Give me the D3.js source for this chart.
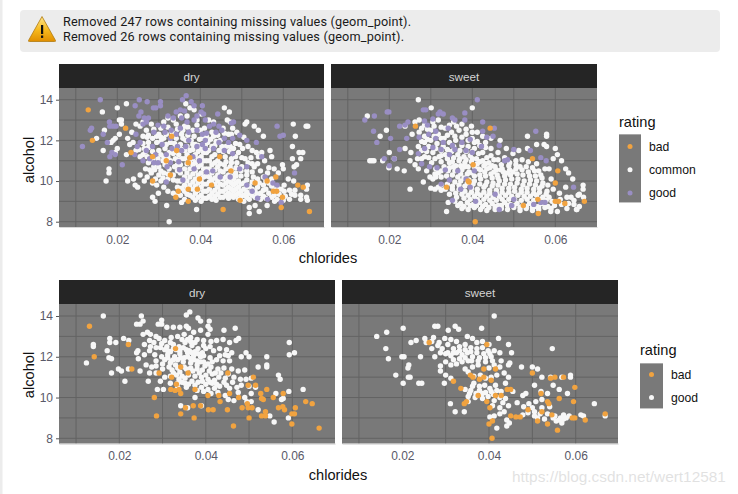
<!DOCTYPE html>
<html><head><meta charset="utf-8">
<script src="https://cdn.jsdelivr.net/npm/d3@7"></script>
<style>html,body{margin:0;background:#fff}svg{display:block}</style></head><body><svg id="c" width="738" height="494"></svg>
<script>
const facets=["dry","sweet"];
const tickX=[0.02,0.04,0.06], minorX=[0.01,0.03,0.05], tickY=[8,10,12,14], minorY=[9,11,13];
const messages=["Removed 247 rows containing missing values (geom_point).","Removed 26 rows containing missing values (geom_point)."];
const ratingsTop=["bad","common","good"], ratingsBottom=["bad","good"];
const colorsTop={bad:"#f1a340",common:"#f7f7f7",good:"#998ec3"};
const colorsBottom={bad:"#f1a340",good:"#f7f7f7"};

const topDryCommon=[[.0164,13.4],[.02,13.6],[.0222,13.8],[.015,12.1],[.0169,12.5],[.0166,11.5],[.018,10.6],[.018,10.4],[.0173,10],[.0225,10],[.0239,10.1],[.0243,9.8],[.0249,9.7],[.0325,8],[.0319,8.8],[.0291,9],[.0285,9.2],[.0299,9.4],[.0391,8.6],[.0458,13.6],[.047,13.4],[.0508,12.8],[.0512,12.9],[.053,12.7],[.0552,12.2],[.054,12.5],[.0624,12.8],[.0629,12.2],[.0622,11.7],[.0659,12.7],[.0655,12.7],[.0638,11.4],[.0647,11.4],[.0622,11.1],[.0642,11.1],[.0632,10.8],[.0626,10.7],[.0572,11.2],[.0568,11.5],[.0518,8.7],[.0518,8.4],[.0542,8.5],[.0532,8.8],[.0561,8.8],[.0579,9],[.0658,9.8],[.0656,9.6],[.0656,9.2],[.0658,9.05],
[.0205,13],[.021,12.8],[.021,13],[.0205,12.3],[.0195,12.1],[.019,12],[.0185,11.9],[.02,11.6],[.0195,11.4],[.0222,11.3],[.023,11.8],[.0225,12.1],[.0235,12.4],[.0245,12.8],[.0255,12.7],[.0262,12.9],[.0238,11.9],[.0245,11.5],[.0255,11.2],[.0262,12.2],[.027,12.5],[.0275,11.9],[.0282,12.8],[.0265,11.6],[.0262,11.3],[.0275,10.9],[.0272,11.2],[.0288,10.7],[.0282,10.4],[.0268,10.6],[.0255,10.3],[.0265,10],[.0272,10.2],[.0285,9.9],[.0295,9.8],[.0305,10],[.0312,9.7],[.0322,9.5],[.0335,9.4],[.0345,9.7],[.0352,9.3],[.0362,9.1],[.0355,8.95],
[.03,10.3],[.03,10.7],[.0298,11.1],[.03,11.5],[.0295,11.9],[.03,12.3],[.0305,12.6],[.0312,12.9],[.0322,13.1],[.0335,13],[.0312,12.1],[.0315,11.6],[.0312,11.2],[.0315,10.8],[.0312,10.4],[.0322,10.1],[.0325,10.6],[.0328,11],[.0325,11.4],[.0328,11.9],[.0332,12.4],[.0342,12.8],[.0352,13.2],[.0342,12.1],[.0338,11.6],[.034,11.1],[.0338,10.7],[.0335,10.3],[.0345,10],[.0352,10.4],[.0352,10.8],[.0348,11.3],[.0352,11.8],[.0355,12.3],[.0362,12.7],[.0368,13.2],[.0375,13.6],[.0365,13.8],[.0385,13.5],[.0365,12],[.0362,11.5],[.0362,11.1],[.0362,10.6],[.0362,10.2],[.0362,9.8],[.0362,9.5],[.0375,9.3],[.0375,9.8],[.0375,10.2],[.0375,10.6],[.0375,11],[.0375,11.5],[.0378,12],[.0382,12.5],[.0392,13],[.0402,13.3],[.0388,11.8],[.0388,11.3],[.0388,10.9],[.0388,10.5],[.0388,10.1],[.0388,9.75],[.0388,9.4],[.0388,9.05],[.0402,9],[.0402,9.3],[.0402,9.7],[.0402,10],[.0402,10.4],[.0402,10.8],[.0402,11.2],[.0402,11.6],[.0405,12.1],[.041,12.6],[.042,13],[.0415,9.15],[.0415,9.5],[.0415,9.85],[.0415,10.25],[.0415,10.6],[.0415,11],[.0415,11.4],[.0418,11.9],[.0428,12.4],[.0432,12.9],[.0428,9.1],[.0428,9.4],[.0428,10.05],[.0428,10.4],[.0428,10.8],[.0428,11.2],[.0428,11.7],[.0438,9.05],[.0442,9.35],[.0442,9.7],[.0442,10],[.0442,10.3],[.0442,10.7],[.0442,11],[.0445,11.5],[.0448,12],[.0455,12.6],[.0465,13],[.0472,12.9],[.0455,9.2],[.0455,9.5],[.0455,9.8],[.0455,10.1],[.0455,10.45],[.0458,10.8],[.046,11.2],[.0462,11.7],[.0468,12.3],[.0478,12.6],[.0468,9.15],[.0468,9.4],[.0468,9.7],[.0468,10],[.0468,10.3],[.0472,10.7],[.0475,11.1],[.048,11.6],[.048,9.2],[.048,9.5],[.048,9.8],[.048,10.1],[.0485,10.4],[.0488,10.9],[.0492,11.4],[.0495,11.8],[.0492,9.1],[.0492,9.4],[.0492,9.7],[.0492,10],[.0498,10.25],[.05,10.7],[.0508,11.1],[.0515,11.7],[.0505,9],[.0505,9.3],[.0505,9.6],[.0505,9.9],[.0512,10.3],[.0515,10.9],[.0525,11.5],[.0535,11.4],[.0518,9.1],[.0518,9.4],[.0518,9.75],[.0528,10.2],[.053,10.7],[.054,11.2],[.0548,11.4],[.0532,9.2],[.0532,9.5],[.0542,9.9],[.0545,10.5],[.0555,11],[.0545,9.1],[.0545,9.4],[.0558,9.6],[.0558,10],[.0562,10.4],[.0558,9.15],[.0572,9.2],[.0572,9.75],[.0572,10.1],[.0578,10.6],[.0588,10.4],[.0585,9.7],[.0585,9.1],[.06,9.05],[.0602,9.5],[.0602,9.8],[.0598,10.8],[.06,10.6],[.0612,10.1],[.0615,9.55],[.0615,9.1],[.0628,9.3],[.0628,9.55],[.0625,10],[.0642,9.3],[.0642,9.1]];
const topDryCommonDense=[[.0368,9.35],[.0368,9.65],[.0368,10],[.0368,10.4],[.0368,10.85],[.0368,11.3],[.0382,9.2],[.0382,9.6],[.0382,9.95],[.0382,10.35],[.0382,10.8],[.0382,11.1],[.0395,9.2],[.0395,9.55],[.0395,9.9],[.0395,10.3],[.0395,10.7],[.0395,11.1],[.0395,11.45],[.0408,9.15],[.0408,9.5],[.0408,9.85],[.0408,10.2],[.0408,10.6],[.0408,11],[.0408,11.4],[.0422,9.25],[.0422,9.6],[.0422,9.95],[.0422,10.2],[.0422,10.6],[.0422,11],[.0435,9.25],[.0435,9.55],[.0435,9.85],[.0435,10.15],[.0435,10.55],[.0435,10.9],[.0435,11.3],[.0448,9.2],[.0448,9.5],[.0448,9.85],[.0448,10.15],[.0448,10.5],[.0448,10.85],[.0462,9.3],[.0462,9.6],[.0462,9.9],[.0462,10.2],[.0462,10.6],[.0462,10.95],[.0475,9.3],[.0475,9.6],[.0475,9.9],[.0475,10.25],[.0475,10.55],[.0475,10.9],[.0486,9.3],[.0486,9.6],[.0486,9.9],[.0486,10.25],[.0486,10.65],[.0498,9.25],[.0498,9.5],[.0498,9.85],[.0498,10.5],[.0498,9.05],[.0512,9.2],[.0512,9.45],[.0512,9.7],[.0512,10.05],[.0512,10.5],[.0525,9.3],[.0525,9.6],[.0525,9.95],[.0525,10.45],[.0538,9.35],[.0538,9.7],[.0538,10.1],[.0538,10.85],[.0552,9.25],[.0552,9.55],[.0552,9.8],[.0552,10.2],[.0565,9.4],[.0565,9.9],[.0565,10.65],[.0578,9.3],[.0578,9.55],[.059,9.35],[.0595,9.6],[.0605,9.25],[.062,9.35],[.0322,10.35],[.0335,10.05],[.0345,10.5],[.0345,10.8],[.0348,9.55],[.0352,10],[.032,10.9],[.0322,11.2],[.0335,11.35],[.0345,11.05],[.0355,11.1],[.0355,11.55],[.0305,10.5],[.031,11],[.0305,11.3],[.0285,11.05],[.0285,11.45],[.0285,12.1],[.0272,12.15],[.0262,11.85],[.0368,11.7],[.0382,11.55],[.0395,11.75],[.042,11.5],[.0435,11.75],[.0455,11.45],[.047,11.45],[.0485,11.2],[.05,11.15],[.0522,11.15],[.0525,10.85],
[.0275,12.25],[.0288,12.55],[.0295,12.2],[.0305,11.95],[.0318,11.8],[.0318,12.3],[.0322,12.65],[.0338,11.85],[.0338,12.25],[.0345,12.55],[.0358,12.1],[.0358,12.5],[.037,12.25],[.037,12.65],[.0382,11.8],[.0385,12.2],[.0392,12.75],[.0398,12.05],[.04,12.5],[.0412,11.75],[.0415,12.2],[.0425,12.05],[.0432,12.2],[.0438,11.95],[.0442,12.25],[.0452,11.7],[.0458,12.35],[.0472,11.7],[.0475,12.3],[.0485,11.85],[.0488,12.4],[.0502,11.6],[.0505,12.15],[.0275,11.65],[.0268,11.45],[.0252,11.55],[.029,10.55],[.0292,10.1],[.0278,10.55],[.031,10.15],[.0305,12.15],[.0355,9.65],[.0345,9.35]];
const topDryGood=[[.0159,14],[.0116,11.7],[.0138,12.6],[.0135,12.5],[.0166,12.3],[.0176,11.9],[.0181,12.9],[.0182,12.7],[.019,12.7],[.0197,12.7],[.0182,11.2],[.0187,11.4],[.0195,11.3],[.0212,10.8],[.0253,14],[.0272,13.9],[.0243,13.7],[.0304,13.9],[.0304,13.7],[.0287,13.6],[.0293,13.6],[.0257,13.4],[.0252,13.2],[.0265,13.1],[.0275,13.1],[.027,12.9],[.0262,12.8],[.0366,14.2],[.0357,14],[.0378,13.9],[.0385,13.7],[.0405,13.7],[.0402,13.4],[.0408,13.3],[.0442,13.3],[.048,12.9],[.0475,12.85],[.0585,12.7],[.0592,12.2],[.06,12.25],[.0627,10.4],[.0556,10.2],[.0562,9.1],[.0575,9.9],[.0585,9.8],[.0595,8.95],[.0548,11.2],
[.0322,13.2],[.0342,13.4],[.0352,13.5],[.0362,13.45],[.0335,13.1],[.0355,13.1],[.0368,12.9],[.0385,13],[.0392,13.2],[.0412,13],[.0432,12.8],[.0445,12.7],[.0452,12.5],[.0312,12.7],[.0298,12.75],[.0288,12.4],[.0245,12.3],[.0255,11.9],[.0248,11.7],[.0242,11.3],[.027,11.5],[.0278,11.1],[.0262,11],[.0285,11.7],[.0292,11.3],[.0315,12.4],[.033,12.5],[.0342,12.3],[.0352,12.6],[.0372,12.4],[.0392,12.5],[.0405,12.3],[.0415,12.35],[.0422,12.7],[.0438,12.4],[.0458,12.1],[.0468,11.9],[.0478,12.1],[.0495,12.25],[.0512,12],[.0535,11.9],[.0328,12.1],[.0345,11.7],[.0355,11.5],[.0365,11.7],[.0372,12],[.0382,11.2],[.0392,11.7],[.0405,11.8],[.0412,11.6],[.0412,12],[.0432,11.6],[.0445,11.9],[.0458,11.5],[.0478,11.35],[.0308,11.8],[.0318,11.3],[.0288,10.9],[.0298,10.9],[.032,10.7],[.0328,10.9],[.0348,10.95],[.035,10.55],[.0385,10.6],[.0398,11],[.0415,10.45],[.043,10.5],[.0448,10.2],[.0472,10.2],[.0495,10.6],[.0512,10.7],[.0512,9.8],[.0525,9.5],[.0538,9.15],[.0318,9.95],[.0358,10.05],[.0332,11.6]];
const topDryBad=[[.013,13.5],[.014,12],[.022,12.6],[.0285,11.2],[.0285,10],[.0371,10.9],[.0447,11.2],[.0474,10.5],[.0398,10.1],[.0427,9.8],[.0347,9.5],[.0341,9.2],[.0371,9.6],[.0393,9.6],[.0371,9],[.0455,8.6],[.0561,10],[.0582,10.2],[.0635,9.8],[.0648,9.7],[.0663,8.5],[.0576,9.5],[.0584,9.5],[.0598,9.2],[.0595,8.7],[.0496,9.05],[.0331,12.2],[.0343,11.5],[.0233,11.4],[.0328,10.3],[.0532,9.9],[.0318,11],[.0375,11.15]];

const topSweetCommon=[[.027,14],[.0301,13.6],[.04,13.6],[.0147,13.2],[.0193,12.5],[.0178,12.2],[.02,11.4],[.0153,11],[.0158,11],[.0163,11],[.0184,11],[.0212,11.1],[.0219,10.6],[.0236,10.5],[.0199,10.65],[.025,9.6],[.027,10.6],[.0338,8.5],[.0282,9.95],[.0467,12],[.0533,12.2],[.0579,12.3],[.0579,12.2],[.0555,11.8],[.0573,11.8],[.0579,11.7],[.0533,11.6],[.0512,11.5],[.0498,11.35],[.0482,11.6],[.06,11.6],[.0615,11],[.0595,11.1],[.0605,11.3],[.0585,10.6],[.0625,10.6],[.0632,10.4],[.0642,10.1],[.0667,9.8],[.0667,9.6],[.0655,9.3],[.0651,8.6],[.0605,8.5],[.0589,8.5],[.0628,8.65],
[.0238,12.7],[.0262,12.9],[.0272,13],[.0285,12.75],[.0305,12.9],[.0318,13],[.0335,12.6],[.0355,12.9],[.0375,12.8],[.0398,12.7],[.0412,12.4],[.0425,12.2],[.0445,12.1],[.0255,12.3],[.0272,12.4],[.0285,12.2],[.03,12.5],[.0318,12.3],[.0332,12.1],[.035,12.4],[.0368,12.5],[.0385,12.3],[.04,12.1],[.0412,11.95],[.0432,11.9],[.0445,11.6],[.0462,11.4],[.0238,11.6],[.0252,11.4],[.027,11.7],[.0285,11.9],[.03,12],[.0315,11.85],[.033,11.7],[.0345,11.9],[.036,12],[.0375,11.75],[.039,11.7],[.0405,11.6],[.0425,11.4],[.0445,11.25],[.0462,11.05],[.0478,11.15],[.025,11],[.0262,10.8],[.0278,11.1],[.029,11.45],[.0305,11.4],[.032,11.2],[.0335,11.3],[.035,11.45],[.0365,11.3],[.038,11.2],[.0395,11.25],[.041,11.1],[.0425,11],[.044,10.9],[.0455,10.7],[.047,10.8],[.049,10.9],[.0505,11],[.052,11.05],[.0535,10.95],[.0555,10.85],[.0575,10.6],[.029,10.5],[.0302,10.9],[.0312,10.6],[.0325,10.2],[.0332,10.7],[.0345,10.9],[.036,10.75],[.0375,10.55],[.039,10.7],[.04,10.4],[.0415,10.6],[.043,10.45],[.0445,10.35],[.046,10.3],[.0475,10.45],[.049,10.55],[.0505,10.6],[.052,10.55],[.0535,10.45],[.055,10.5],[.0565,10.3],[.0305,10.1],[.0318,9.7],[.0338,10.25],[.0352,10.3],[.0365,10.2],[.038,10.15],[.0392,10.05],[.0405,10],[.042,10.1],[.0435,9.95],[.045,9.9],[.0465,10],[.048,10.05],[.0495,10.1],[.051,10.1],[.0525,10],[.054,10.05],[.0555,10],[.057,9.9],[.059,10.1],[.03,9.65],[.031,9.6],[.0325,9.55],[.034,9.85],[.0352,9.75],[.0368,9.8],[.0382,9.75],[.0398,9.65],[.0412,9.6],[.0428,9.7],[.0442,9.55],[.0458,9.55],[.0472,9.65],[.0488,9.65],[.0502,9.7],[.0518,9.6],[.0532,9.65],[.0548,9.6],[.0562,9.65],[.058,9.5],[.0595,9.6],[.061,9.4],[.0625,9.7],[.0638,9.2],[.0345,9.35],[.036,9.4],[.0375,9.35],[.039,9.3],[.0405,9.25],[.042,9.3],[.0435,9.25],[.045,9.2],[.0465,9.25],[.048,9.3],[.0495,9.25],[.051,9.3],[.0525,9.25],[.054,9.25],[.0555,9.3],[.057,9.2],[.0585,9.2],[.0612,9.1],[.0628,9.2],[.0645,9.05],[.0658,9.35],[.0668,9.2],[.0342,8.95],[.0358,9],[.0372,8.9],[.0388,8.95],[.0402,8.85],[.0418,8.95],[.0432,8.85],[.0448,8.9],[.0462,8.8],[.0478,8.95],[.0492,8.85],[.0508,8.9],[.0522,8.8],[.0538,8.9],[.0552,8.75],[.0568,8.9],[.0582,8.75],[.0598,8.8],[.0615,8.85],[.0632,8.9],[.0645,8.85],[.0658,8.75],[.0652,8.6],[.0375,8.65],[.039,8.6],[.0405,8.7],[.042,8.6],[.0435,8.55],[.0455,8.6],[.047,8.65],[.0485,8.6],[.05,8.7],[.0515,8.55],[.053,8.65],[.0545,8.55],[.056,8.6]];
const topSweetCommonDense=[[.0362,9.2],[.038,9.15],[.0395,9.1],[.0412,9.1],[.0428,9.1],[.0442,9.05],[.0458,9.05],[.0472,9.1],[.0488,9.1],[.0502,9.1],[.0518,9.05],[.0532,9.1],[.0548,9.05],[.0562,9.1],[.0578,9.05],[.0592,9],[.0365,8.8],[.038,8.75],[.0395,8.8],[.041,8.8],[.0425,8.75],[.044,8.7],[.0455,8.75],[.047,8.8],[.0485,8.8],[.05,8.8],[.0515,8.7],[.053,8.75],[.0545,8.7],[.056,8.75],[.0575,8.7],[.059,8.65],[.0352,9.6],[.0368,9.6],[.0382,9.5],[.0398,9.45],[.0412,9.4],[.0428,9.45],[.0442,9.4],[.0458,9.4],[.0472,9.45],[.0488,9.45],[.0502,9.5],[.0518,9.45],[.0532,9.45],[.0548,9.4],[.0562,9.45],[.0578,9.35],[.0358,9.95],[.0372,10],[.0388,9.9],[.0402,9.85],[.0418,9.85],[.0432,9.8],[.0448,9.75],[.0462,9.8],[.0478,9.85],[.0492,9.85],[.0508,9.9],[.0522,9.8],[.0538,9.85],[.0552,9.8],[.0568,9.75],[.0582,9.8],[.0342,10.5],[.0358,10.5],[.0372,10.35],[.0388,10.35],[.0405,10.25],[.0418,10.3],[.0432,10.25],[.0448,10.15],[.0462,10.15],[.0478,10.25],[.0492,10.3],[.0508,10.35],[.0522,10.3],[.0538,10.25],[.0552,10.25],[.0568,10.15],[.0352,10.95],[.0368,11],[.0382,10.9],[.0398,10.95],[.0412,10.85],[.0428,10.75],[.0442,10.65],[.0458,10.55],[.0472,10.6],[.0488,10.75],[.0505,10.8],[.0372,10.75],[.0325,10.95],[.0318,10.4],[.0312,10.2],[.0298,10.2],[.0335,9.6],[.0325,9.8],
[.0278,12.6],[.0292,12.55],[.0308,12.7],[.0325,12.65],[.0345,12.75],[.0362,12.7],[.0385,12.55],[.04,12.4],[.0278,11.95],[.0292,12.05],[.0308,12.2],[.0325,12.1],[.034,12.25],[.0358,12.2],[.0375,12.15],[.039,12],[.0405,11.9],[.0418,11.75],[.0432,11.65],[.0278,11.5],[.0295,11.7],[.0312,11.6],[.0325,11.5],[.034,11.55],[.0355,11.7],[.037,11.5],[.0385,11.45],[.04,11.45],[.0415,11.35],[.0435,11.15],[.0452,11.05],[.0268,11.1],[.0285,11.2],[.0295,11.15],[.031,11.1],[.0325,11.25],[.034,11.1],[.0355,11.15],[.037,11.1],[.0385,11.05],[.04,11.1],[.0418,10.95],[.0432,10.85],[.0448,10.75],[.031,10.35],[.0325,10.5],[.0345,10.65],[.0355,10.7],[.0382,10.7],[.0392,10.45],[.0405,10.7],[.042,10.55],[.0435,10.6],[.0452,10.45],[.0468,10.55],[.0485,10.4],[.0498,10.45],[.0515,10.7],[.053,10.7],[.0545,10.65],[.056,10.5]];
const topSweetGood=[[.0412,14],[.0141,13],[.0164,13.2],[.0199,13.4],[.0195,13.4],[.0282,13.5],[.0288,13.5],[.0322,13.4],[.033,13.3],[.0318,13.3],[.0382,13.35],[.0352,13.1],[.0382,13],[.0425,12.9],[.0162,12.45],[.017,11.9],[.0203,12.1],[.0225,12.7],[.0245,12.9],[.0238,12.75],[.0242,12.1],[.0285,12.95],[.0292,12.75],[.0305,13.05],[.0358,13],[.0312,12.45],[.0342,12.6],[.0453,12.6],[.0553,12.45],[.0225,11.55],[.0212,11.1],[.0188,11.1],[.02,10.75],[.0297,10.7],[.0278,10.85],[.0644,9.7],[.0565,8.95],[.0575,8.95],[.0548,8.85],[.0495,8.8],[.05,11.55],[.0465,11.75],[.054,11.5],[.0485,11.05],[.0478,11],[.0565,11.15],[.0578,11],[.045,12.2],[.0425,12.45],[.0395,12.05],[.0375,11.9],[.0352,11.75],[.033,11.9],[.0312,12.1],[.0295,12.3],[.0272,12.15],[.027,11.35],[.0285,11.6],[.0305,11.65],[.0325,11.55],[.0345,11.3],[.0358,11.55],[.0385,11.5],[.04,11.4],[.0422,11.7],[.0435,12.15],[.0315,10.65],[.0335,10.55],[.0365,10.5],[.0385,10.1],[.0405,10.5],[.0325,9.85],[.0345,10.05],[.0372,9.6],[.0395,9.7],[.0455,9.35],[.05,9.1],[.0465,8.6],[.0408,9],[.0352,9.05]];
const topSweetBad=[[.0263,12.7],[.0443,12.6],[.0407,8],[.0559,8.4],[.0523,8.8],[.067,9],[.06,9],[.0608,9],[.06,9.9],[.0606,10.5],[.0545,11.1],[.0338,9.7],[.039,10],[.0402,10.8],[.0623,8.9],[.0392,9.95],[.0558,9.1]];

const botDryGood=[[.0163,14],[.0251,14],[.0124,11.7],[.014,12.6],[.014,12.5],[.0172,12.3],[.0178,12.9],[.0178,12.7],[.0182,11.9],[.0176,11.95],[.0182,11.2],[.0198,11.4],[.0205,11.3],[.0213,10.8],[.0192,12.7],[.021,12.9],[.0222,12.8],[.024,13.6],[.0248,13.6],[.0255,13.75],[.0243,12.3],[.0244,11.9],[.024,12.2],[.0221,11.4],[.0267,10.8],[.0288,10.4],[.0302,10.4],[.0342,9.6],[.0358,9.5],[.039,9.6],[.0375,10],[.0593,12.7],[.0605,12.2],[.0593,12.1],[.0625,10.4],[.0592,10.3],[.0579,9.95],[.0575,9.9],[.0541,12],[.0541,11.5],[.0541,11.6],[.0521,11.5],[.0493,12.2],[.05,12],[.0482,12],[.047,12.8],[.0476,12.9],[.0468,13.4],[.0442,13.3],[.0568,11.1],[.0572,10.9],[.0493,10.9],[.0562,10.2],[.0521,9.4],[.0548,9.1],[.0558,8.8],[.0591,9],[.0363,14.2],[.0355,14.05],[.0382,13.9],[.0388,13.75],[.0408,13.75],[.0405,13.5],[.041,13.35],[.0405,13.1],
[.0255,13.1],[.0265,13.2],[.0272,13.1],[.0285,13],[.029,13.6],[.0298,13.8],[.0298,13.6],[.031,13.45],[.0325,13.45],[.034,13.45],[.0355,13.5],[.036,13.4],[.0372,13.2],[.0388,13.3],[.0258,12.6],[.027,12.8],[.028,12.7],[.0292,12.9],[.0305,12.8],[.032,12.95],[.0335,13],[.035,13.1],[.0365,12.95],[.038,12.85],[.0395,12.8],[.0412,12.75],[.0425,12.8],[.044,12.85],[.0455,12.7],[.0258,12.1],[.027,12.3],[.0282,12.1],[.0295,12.45],[.031,12.5],[.0325,12.6],[.0338,12.5],[.0352,12.7],[.0368,12.55],[.0382,12.4],[.04,12.4],[.0418,12.3],[.0432,12.4],[.0448,12.35],[.046,12.2],[.0248,11.3],[.0262,11.6],[.0275,11.5],[.0285,11.8],[.0298,12],[.0312,12.1],[.0328,12],[.034,12.15],[.0358,12.2],[.0372,12.05],[.0388,12],[.041,11.95],[.0425,11.85],[.044,11.8],[.0455,11.8],[.027,11.2],[.0285,11.2],[.03,11.4],[.0315,11.5],[.033,11.6],[.0348,11.75],[.0365,11.7],[.038,11.6],[.0398,11.55],[.0412,11.5],[.0428,11.4],[.0442,11.45],[.046,11.4],[.0475,11.3],[.049,11.35],[.0295,10.8],[.0305,11],[.0325,11.2],[.034,11.25],[.0355,11.4],[.037,11.3],[.0385,11.2],[.04,11.1],[.0415,11.15],[.043,11],[.0445,10.95],[.0465,11],[.048,10.9],[.0505,10.95],[.0318,10.7],[.0338,10.9],[.0352,10.95],[.0368,10.8],[.0382,10.75],[.04,10.65],[.0415,10.7],[.0432,10.55],[.0448,10.6],[.0462,10.75],[.0482,10.6],[.05,10.55],[.0515,10.5],[.0335,10.5],[.0355,10.5],[.038,10.35],[.0395,10.3],[.0412,10.2],[.0428,10.25],[.0445,10.1],[.0475,10.25],[.049,10],[.0505,10.2],[.0452,9.9],[.0465,9.85],[.0495,9.8],[.0505,9.8],
[.0305,12.35],[.0318,12.25],[.0332,12.35],[.0348,12.45],[.0362,12.3],[.0375,12.25],[.0392,12.2],[.0305,11.85],[.032,11.8],[.0335,11.85],[.035,11.95],[.0365,11.9],[.038,11.8],[.0395,11.75],[.0415,11.75],[.0318,11.05],[.0332,11.1],[.0345,11.05],[.036,11.1],[.0375,11.05],[.039,11],[.0405,10.9],[.042,10.85],[.0345,10.75],[.036,10.65],[.0375,10.6],[.039,10.5],[.0405,10.4],[.042,10.45],[.0285,12.45],[.0298,12.65],[.0318,12.7],[.0345,12.85],[.0358,12.85],[.0375,12.7],[.0285,11.55],[.03,11.65],[.0318,11.7],
[.0312,12.3],[.0325,12.4],[.034,12.3],[.0355,12.35],[.0368,12.2],[.0382,12.15],[.0395,12.05],[.0312,11.95],[.0325,11.85],[.0342,11.95],[.0358,12],[.0372,11.85],[.0388,11.75],[.0405,11.65],[.0322,11.35],[.0335,11.45],[.035,11.5],[.0365,11.45],[.038,11.4],[.0392,11.35],[.0408,11.3],[.0422,11.2],[.0435,11.2],[.0452,11.15],[.0335,10.7],[.0352,10.7],[.0392,10.8],[.041,10.75],[.0425,10.65],[.0442,10.75],[.0455,10.45],[.0472,10.5],[.0365,12.75],[.0395,12.55],[.041,12.5],[.0272,12.5],[.0452,12.05],[.0432,12.05],[.0445,12.1]];
const botDryBad=[[.0131,13.5],[.0142,12],[.0221,12.6],[.0229,11.4],[.0281,10],[.0286,9.1],[.0292,11.2],[.0321,11],[.033,12.4],[.0319,10.4],[.0332,10.65],[.0338,10.4],[.0342,10.2],[.0342,9.2],[.0353,9.5],[.0371,9.6],[.0373,9],[.0388,9.6],[.0406,9.4],[.0417,9.4],[.045,9.4],[.0433,9.8],[.0464,8.6],[.0484,9.5],[.0496,9.7],[.0498,9.5],[.0507,9.5],[.05,9],[.0527,10.2],[.0529,9.95],[.0533,9.9],[.0529,9.1],[.0538,9.1],[.0538,9.3],[.0541,10.4],[.0556,10],[.0568,9.5],[.0578,9.55],[.0582,9.4],[.0579,10.2],[.0599,8.7],[.0599,9.2],[.0605,9.2],[.0607,9.5],[.0631,9.8],[.0646,9.7],[.0662,8.5],[.051,11],[.0451,11.2],[.0359,11.2],[.0342,11.5],[.0329,10.35],[.0375,10.4],[.0405,10.1],[.043,10.1],[.0455,10.2],[.0476,10],[.0498,10.6],[.0515,10.6]];

const botSweetGood=[[.0412,14],[.0141,13],[.0164,13.2],[.0202,13.4],[.0275,13.5],[.0282,13.5],[.0252,12.9],[.0232,12.8],[.022,12.7],[.0162,12.4],[.0168,11.9],[.0199,12],[.0204,12],[.0242,12],[.0215,11.6],[.0213,11.45],[.0185,11.1],[.0218,11],[.0214,11],[.0202,10.7],[.0238,10.7],[.0245,10.7],[.0297,10.7],[.0322,13.5],[.033,13.35],[.0306,13.3],[.0383,13.4],[.0422,12.9],[.0445,12.6],[.0452,12.2],[.0445,11.6],[.0448,11.7],[.0546,12.4],[.0475,11.5],[.05,11.5],[.0512,11.4],[.0643,9.7],[.0668,9.1],[.0581,10.2],[.0562,10.4],[.0548,10.6],[.0522,11],[.0542,11],[.0568,11],[.0588,11.1],[.0588,11],[.052,10.3],[.0485,10.2],[.0478,10.1],[.0311,9.7],[.0322,9.3],[.0343,9.3],[.0352,9.8],[.0418,8.5],[.0441,8.9],[.0441,8.6],[.0447,8.75],
[.0255,12.7],[.0268,12.75],[.0272,12.95],[.0285,12.7],[.0298,12.9],[.0312,12.85],[.0325,12.75],[.035,13],[.0362,12.9],[.0372,12.7],[.0385,12.75],[.04,12.6],[.0268,12.4],[.0282,12.55],[.0292,12.4],[.0305,12.6],[.0318,12.4],[.0332,12.5],[.0345,12.6],[.0358,12.45],[.0372,12.4],[.0385,12.45],[.0398,12.3],[.0412,12.3],[.0425,12.2],[.0275,12],[.0288,12.2],[.03,12.15],[.0312,12.05],[.0325,12.2],[.0338,12.1],[.035,12.2],[.0362,12],[.0378,11.95],[.0392,11.95],[.0405,12],[.0428,11.8],[.0288,11.55],[.03,11.75],[.0312,11.6],[.0325,11.65],[.0338,11.75],[.0352,11.8],[.0362,11.5],[.0375,11.6],[.04,11.45],[.0412,11.6],[.0425,11.5],[.0288,11.3],[.03,11.1],[.0312,10.95],[.0345,11.4],[.0352,11.25],[.0365,11.05],[.038,11.1],[.0392,10.95],[.0405,11],[.0418,11.1],[.0435,11.2],[.0365,10.7],[.0378,10.55],[.039,10.6],[.0402,10.45],[.0415,10.6],[.0428,10.3],[.0445,11],[.0438,10.7],[.0345,10.4],[.0358,10.35],[.037,10.2],[.0385,10.2],[.0398,10.05],[.041,10.15],[.0425,10],[.0438,9.95],[.0445,9.6],[.0425,9.5],[.0408,9.6],[.0505,10.6],[.0508,9.8],[.0522,9.9],[.0535,10.2],[.05,9.5],[.049,9.25],[.0505,9.1],[.0512,9],[.0528,8.95],[.0522,9.5],[.054,9.55],[.0552,9.1],[.0562,8.9],[.0572,9.15],[.0578,9],[.0568,8.75],[.0548,9],[.0612,9.15],[.0618,9.1],[.0402,9.05],[.0412,9.1],[.0425,9.2],[.0435,9.3],[.0478,9.15],[.048,9.55],[.0492,9.7],[.0465,9.75],[.0455,10.3],
[.0305,12.2],[.0318,12.2],[.0332,12.3],[.0345,12.35],[.0358,12.25],[.0372,12.2],[.0388,12.15],[.0402,12.15],[.0318,11.85],[.0332,11.9],[.0345,11.95],[.036,11.8],[.0375,11.8],[.0392,11.75],[.0408,11.8],[.0355,10.2],[.0378,10.35],[.0392,10.25],[.0405,10.3],[.0418,10.35],[.0362,10.55],[.0352,10.05],[.0368,10],[.0385,9.95],[.0412,9.85],[.0432,9.75],[.0505,9.3],[.0518,9.2],[.0535,9.2],[.0565,9],[.0585,9.1],[.0572,8.95],[.0555,8.85]];
const botSweetBad=[[.0262,12.7],[.0395,12.6],[.0357,11.1],[.0363,11],[.0335,10.45],[.0378,10.9],[.0388,11.4],[.0415,11.4],[.0388,11],[.0405,10.85],[.0442,10.4],[.0318,10.8],[.045,10.4],[.0375,10.1],[.0395,9.8],[.0343,9.7],[.0348,9.8],[.0402,9.5],[.0415,10.1],[.0428,10.1],[.04,8.7],[.0408,8.85],[.0407,8],[.045,9.1],[.0462,9.05],[.0472,9.05],[.049,9.4],[.05,11.2],[.0542,10.95],[.0572,11],[.0598,10.5],[.0595,9.8],[.0562,9.95],[.0535,9.8],[.0538,9.7],[.052,10.2],[.0522,9.3],[.0512,8.85],[.0535,8.7],[.0558,8.4],[.0592,9],[.0598,9],[.0622,8.9],[.0668,9.2],[.0545,9.15],[.0552,11]];

const panelFill="#797979",gridColor="#636363",stripFill="#252525",tickColor="#595968";
const sans="'Liberation Sans',Arial,sans-serif";
const svg=d3.select("#c");

svg.append("rect").attr("x",0).attr("y",0).attr("width",2.5).attr("height",494).attr("fill","#ececec");
svg.append("rect").attr("x",20).attr("y",10).attr("width",700).attr("height",42).attr("rx",4).attr("fill","#ececec");
const grad=svg.append("defs").append("linearGradient").attr("id","warn").attr("x1",0).attr("y1",0).attr("x2",0).attr("y2",1);
grad.append("stop").attr("offset",0).attr("stop-color","#fde58a");
grad.append("stop").attr("offset",.55).attr("stop-color","#f6b81c");
grad.append("stop").attr("offset",1).attr("stop-color","#e08e00");
svg.append("path").attr("d","M42 16.5 L55.5 40.5 Q56 41.5 54.5 41.5 L29.5 41.5 Q28 41.5 28.5 40.5 Z").attr("fill","url(#warn)").attr("stroke","#b07a10").attr("stroke-width",.8);
svg.append("rect").attr("x",41).attr("y",25).attr("width",2.2).attr("height",9).attr("fill","#111");
svg.append("rect").attr("x",41).attr("y",35.5).attr("width",2.2).attr("height",2.4).attr("fill","#111");
svg.selectAll("text.msg").data(messages).enter().append("text").attr("class","msg")
  .attr("x",63).attr("y",(d,i)=>26+i*15).attr("font-family","Roboto,sans-serif").attr("font-size",12.7).attr("fill","#1a1a1a")
  .attr("textLength",(d,i)=>i==0?348:341).attr("lengthAdjust","spacing").text(d=>d);

function facetRow(g){
  const colorByRating=g.colors;
  g.panels.forEach((p,i)=>{
    const x=d3.scaleLinear().domain(g.xDomainFrom(p)).range([p.left,p.right]);
    const y=d3.scaleLinear().domain([g.y8,g.y14]).range([g.py8,g.py14]);
    svg.append("rect").attr("x",p.left).attr("y",g.stripTop).attr("width",p.right-p.left).attr("height",g.panelTop-g.stripTop).attr("fill",stripFill);
    svg.append("rect").attr("x",p.left).attr("y",g.panelTop).attr("width",p.right-p.left).attr("height",g.panelBottom-g.panelTop).attr("fill",panelFill);
    const gridG=svg.append("g");
    gridG.selectAll("line.h").data(tickY.concat(minorY)).enter().append("line").attr("x1",p.left).attr("x2",p.right).attr("y1",d=>y(d)).attr("y2",d=>y(d)).attr("stroke",gridColor).attr("stroke-width",1);
    gridG.selectAll("line.v").data(tickX.concat(minorX)).enter().append("line").attr("y1",g.panelTop).attr("y2",g.panelBottom).attr("x1",d=>x(d)).attr("x2",d=>x(d)).attr("stroke",gridColor).attr("stroke-width",1);
    svg.append("text").attr("x",(p.left+p.right)/2).attr("y",(g.stripTop+g.panelTop)/2+4.5).attr("text-anchor","middle").attr("font-family",sans).attr("font-size",11.7).attr("fill","#d4d4d4").text(facets[i]);
    p.series.forEach(s=>{
      svg.append("g").selectAll("circle").data(s.values).enter().append("circle").attr("cx",d=>x(d[0])).attr("cy",d=>y(d[1])).attr("r",2.7).attr("fill",colorByRating[s.rating]);
    });
    const ax=svg.append("g").attr("transform",`translate(0,${g.panelBottom})`).call(d3.axisBottom(x).tickValues(tickX).tickFormat(d3.format(".2f")).tickSize(0).tickPadding(8));
    ax.select(".domain").attr("stroke","#d8d8d8").attr("stroke-width",1.2);
    ax.selectAll("text").attr("font-family",sans).attr("font-size",12).attr("fill",tickColor);
    if(i==0){
      const ay=svg.append("g").attr("transform",`translate(${p.left},0)`).call(d3.axisLeft(y).tickValues(tickY).tickFormat(d3.format("d")).tickSize(3).tickPadding(3));
      ay.select(".domain").remove();
      ay.selectAll("line").attr("stroke","#555");
      ay.selectAll("text").attr("font-family",sans).attr("font-size",12).attr("fill",tickColor);
    }
  });
  svg.append("text").attr("x",g.xTitleX).attr("y",g.xTitleY).attr("text-anchor","middle").attr("font-family",sans).attr("font-size",14.6).attr("fill","#111").text("chlorides");
  svg.append("text").attr("transform",`translate(${g.yTitleX},${g.yTitleY}) rotate(-90)`).attr("text-anchor","middle").attr("font-family",sans).attr("font-size",14.6).attr("fill","#111").text("alcohol");
  const l=g.legend;
  svg.append("text").attr("x",l.x).attr("y",l.titleY).attr("font-family",sans).attr("font-size",14.6).attr("fill","#111").text("rating");
  svg.append("rect").attr("x",l.x).attr("y",l.top).attr("width",l.w).attr("height",l.h).attr("fill",panelFill);
  l.ratings.forEach((r,i)=>{
    const cy=l.firstY+i*l.step;
    svg.append("circle").attr("cx",l.x+l.w/2).attr("cy",cy).attr("r",2.5).attr("fill",colorByRating[r]);
    svg.append("text").attr("x",l.textX).attr("y",cy+4.3).attr("font-family",sans).attr("font-size",12.2).attr("fill","#111").text(r);
  });
  svg.append("line").attr("x1",l.x).attr("x2",l.x+l.w).attr("y1",l.top+.5).attr("y2",l.top+.5).attr("stroke","#a8a8a8");
  svg.append("line").attr("x1",l.x).attr("x2",l.x+l.w).attr("y1",l.top+l.h-.5).attr("y2",l.top+l.h-.5).attr("stroke","#c4c4c4");
}
function domainFromTicks(tick02,tick06){
  return p=>{const k=(tick06(p)-tick02(p))/0.04;return [0.02+(p.left-tick02(p))/k,0.02+(p.right-tick02(p))/k];};
}
facetRow({colors:colorsTop,stripTop:64,panelTop:88,panelBottom:227,y8:8,y14:14,py8:221.7,py14:99.7,
  xDomainFrom:domainFromTicks(p=>p.t2,p=>p.t6),
  panels:[{left:59,right:324,t2:117.3,t6:283.3,series:[{rating:"common",values:topDryCommon.concat(topDryCommonDense)},{rating:"good",values:topDryGood},{rating:"bad",values:topDryBad}]},
          {left:331,right:597,t2:389.3,t6:555.3,series:[{rating:"common",values:topSweetCommon.concat(topSweetCommonDense)},{rating:"good",values:topSweetGood},{rating:"bad",values:topSweetBad}]}],
  xTitleX:328,xTitleY:263,yTitleX:34,yTitleY:160,
  legend:{x:619,titleY:127,top:134,w:22,h:69,firstY:146.5,step:23.2,textX:649,ratings:ratingsTop}});
facetRow({colors:colorsBottom,stripTop:280,panelTop:304,panelBottom:443.7,y8:8,y14:14,py8:438.3,py14:316,
  xDomainFrom:domainFromTicks(p=>p.t2,p=>p.t6),
  panels:[{left:59,right:335,t2:119.3,t6:292.3,series:[{rating:"good",values:botDryGood},{rating:"bad",values:botDryBad}]},
          {left:342,right:618,t2:402.3,t6:575.7,series:[{rating:"good",values:botSweetGood},{rating:"bad",values:botSweetBad}]}],
  xTitleX:338,xTitleY:480,yTitleX:34,yTitleY:375,
  legend:{x:640,titleY:355,top:363,w:23,h:46,firstY:374.5,step:23,textX:671,ratings:ratingsBottom}});
svg.append("text").attr("x",512).attr("y",482).attr("font-family",sans).attr("font-size",15.4).attr("fill","#d8d8d8").attr("fill-opacity",.75).text("https://blog.csdn.net/wert12581");
</script></body></html>
